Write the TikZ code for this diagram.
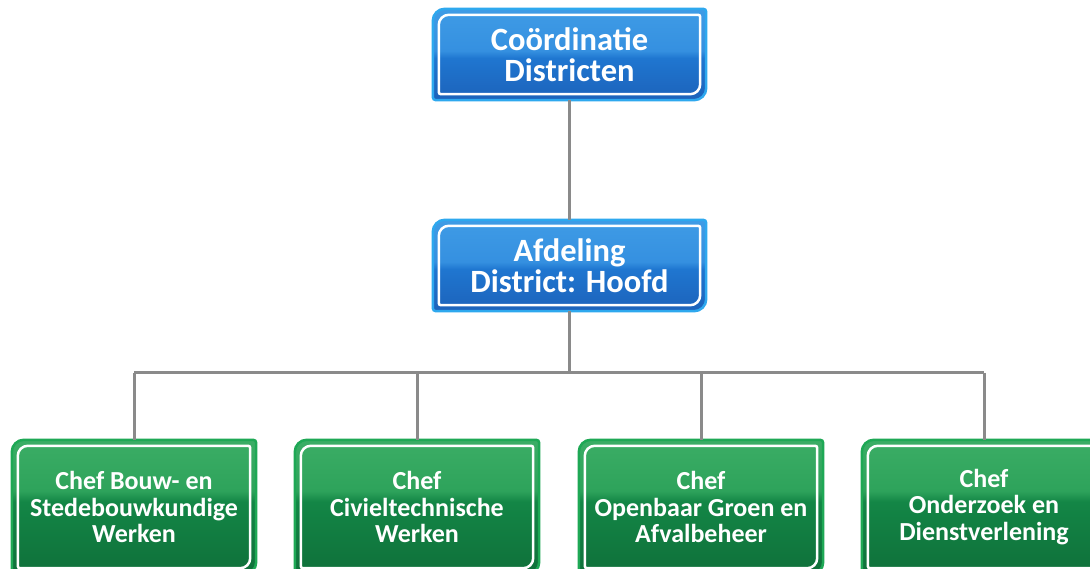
\documentclass[tikz,border=0pt]{standalone}
\usepackage{fontspec}
\setmainfont{Carlito}
\usetikzlibrary{backgrounds,calc}

\definecolor{bluetop}{HTML}{4AA8EC}
\definecolor{bluehigh}{HTML}{3590E0}
\definecolor{bluelow}{HTML}{1F76D0}
\definecolor{bluebot}{HTML}{1A4DA3}
\definecolor{bluerim}{HTML}{2EA8EE}
\definecolor{greentop}{HTML}{4CBB73}
\definecolor{greenhigh}{HTML}{2EA35B}
\definecolor{greenlow}{HTML}{138646}
\definecolor{greenbot}{HTML}{0C5C2F}
\definecolor{greenrim}{HTML}{1EA855}
\definecolor{linegray}{HTML}{8A8A8A}

\pgfdeclareverticalshading{blueplate}{100bp}{color(0bp)=(bluebot); color(48bp)=(bluelow); color(52bp)=(bluehigh); color(100bp)=(bluetop)}
\pgfdeclareverticalshading{greenplate}{100bp}{color(0bp)=(greenbot); color(52bp)=(greenlow); color(56bp)=(greenhigh); color(100bp)=(greentop)}

% plate behind a node: #1 node, #2 shading, #3 rim colour
\newcommand{\plate}[3]{%
  \begin{scope}[on background layer]
    \path[shading=#2, draw=#3, line width=2.5pt]
      let \p1=(#1.north west), \p2=(#1.south east) in
      (\x1,\y2+3pt) -- (\x1,\y1-12pt) arc[start angle=180,end angle=90,radius=12pt]
      -- (\x2-3pt,\y1) arc[start angle=90,end angle=0,radius=3pt]
      -- (\x2,\y2+12pt) arc[start angle=0,end angle=-90,radius=12pt]
      -- (\x1+3pt,\y2) arc[start angle=270,end angle=180,radius=3pt] -- cycle;
    \draw[white, line width=2.5pt]
      let \p1=(#1.north west), \p2=(#1.south east) in
      (\x1+6pt,\y2+8pt) -- (\x1+6pt,\y1-16pt) arc[start angle=180,end angle=90,radius=10pt]
      -- (\x2-8pt,\y1-6pt) arc[start angle=90,end angle=0,radius=2pt]
      -- (\x2-6pt,\y2+16pt) arc[start angle=0,end angle=-90,radius=10pt]
      -- (\x1+8pt,\y2+6pt) arc[start angle=270,end angle=180,radius=2pt] -- cycle;
  \end{scope}}

\begin{document}
\begin{tikzpicture}[x=1pt,y=1pt,
    signbox/.style={minimum width=273pt, minimum height=91pt, inner sep=0pt,
      text=white, align=center, font=\bfseries\fontsize{32.5}{31}\selectfont},
    chefbox/.style={minimum width=244pt, minimum height=134pt, inner sep=0pt,
      text=white, align=center, font=\bfseries\fontsize{26}{26.5}\selectfont},
    conn/.style={draw=linegray, line width=3pt}]
  \useasboundingbox (0,0) rectangle (1090,569);

  % top levels
  \node[signbox] (coord) at (569.5,514.5) {Coördinatie\\Districten};
  \node[signbox] (hoofd) at (569.5,303.5) {Afdeling\\District: Hoofd};

  % chefs
  \node[chefbox] (bouw) at (134,62) {Chef Bouw- en\\Stedebouwkundige\\Werken};
  \node[chefbox] (civiel) at (417,62) {Chef\\Civieltechnische\\Werken};
  \node[chefbox] (groen) at (701,62) {Chef\\Openbaar Groen en\\Afvalbeheer};
  \node[chefbox] (dienst) at (984,62) {Chef\\Onderzoek en\\Dienstverlening};

  \plate{coord}{blueplate}{bluerim}
  \plate{hoofd}{blueplate}{bluerim}
  \foreach \c in {bouw,civiel,groen,dienst}
    \plate{\c}{greenplate}{greenrim};

  % connectors
  \coordinate (split) at (569.5,196);
  \draw[conn] (coord) -- (hoofd);
  \draw[conn] (hoofd) -- (split);
  \draw[conn] (split -| bouw) -- (split -| dienst);
  \foreach \c in {bouw,civiel,groen,dienst}
    \draw[conn] (split -| \c) -- (\c);
\end{tikzpicture}
\end{document}
